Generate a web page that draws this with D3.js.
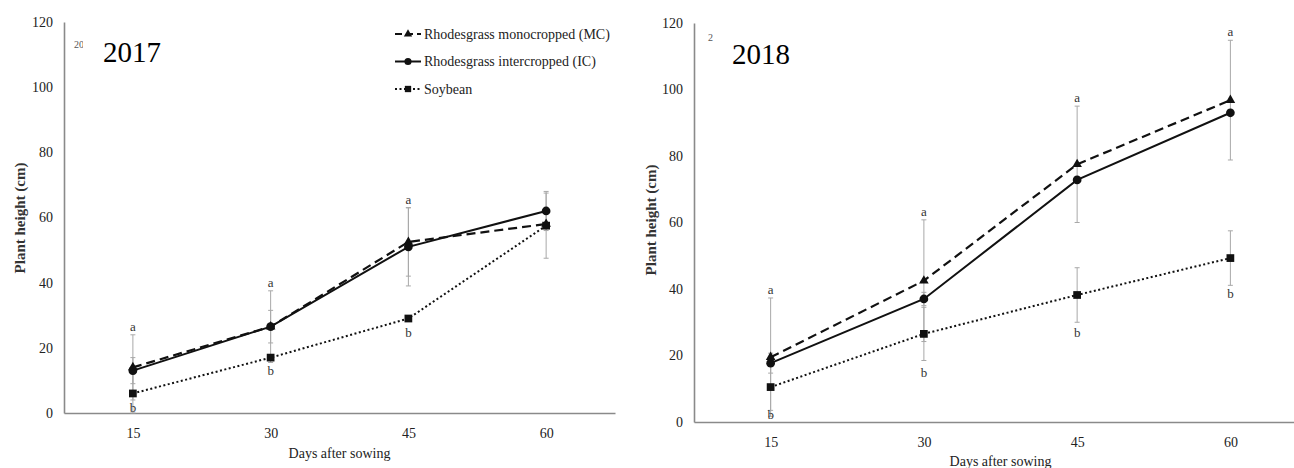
<!DOCTYPE html>
<html><head><meta charset="utf-8">
<script src="https://cdn.jsdelivr.net/npm/d3@7"></script>
<style>body{margin:0;background:#fff}svg{display:block}text{font-family:"Liberation Serif","Times New Roman",serif}</style>
</head><body><svg id="c" width="1294" height="468"></svg>
<script>
const days = ["15","30","45","60"];
const yTicks = [0,20,40,60,80,100,120];
const seriesNames = ["Rhodesgrass monocropped (MC)","Rhodesgrass intercropped (IC)","Soybean"];
// 2017
const mc2017 = [14, 26.5, 52.5, 58];
const ic2017 = [13, 26.5, 51, 62];
const soy2017 = [6, 17, 29, 57.5];
const mc2017Err = [10, 11, 10.5, 0];
const ic2017Err = [4, 5, 12, 6];
const soy2017Err = [6, 0, 0, 10];
const letters2017Top = ["a","a","a",""];
const letters2017Bot = ["b","b","b",""];
const letters2017BotVal = [1.8, 13.2, 25, 0];
// 2018
const mc2018 = [19.5, 42.5, 77.5, 96.8];
const ic2018 = [17.7, 37, 72.8, 93];
const soy2018 = [10.5, 26.5, 38.2, 49.3];
const mc2018Err = [17.8, 18.3, 17.5, 18];
const ic2018Err = [3, 2, 0, 0];
const soy2018Err = [7, 8, 8.2, 8.2];
const letters2018Top = ["a","a","a","a"];
const letters2018Bot = ["b","b","b","b"];
const letters2018BotVal = [2.4, 15, 27, 38.8];

const svg = d3.select("#c");

function panel(cfg){
  const x = d3.scalePoint().domain(days).range([cfg.x0, cfg.x1]).padding(0.5);
  const y = d3.scaleLinear().domain([0,120]).range([cfg.yb, cfg.yt]);
  const g = svg.append("g");
  const ya = g.append("g").attr("transform",`translate(${cfg.x0},0)`)
    .call(d3.axisLeft(y).tickValues(yTicks).tickSize(0).tickPadding(11));
  ya.select(".domain").attr("stroke","#8a8a8a").attr("stroke-width",1.6);
  ya.selectAll("text").attr("font-size",14).attr("fill","#222").style("font-family","Liberation Serif");
  const xa = g.append("g").attr("transform",`translate(0,${cfg.yb})`)
    .call(d3.axisBottom(x).tickSize(0).tickPadding(cfg.xpad));
  xa.select(".domain").attr("stroke","#8a8a8a").attr("stroke-width",1.6);
  xa.selectAll("text").attr("font-size",14).attr("fill","#222").style("font-family","Liberation Serif");
  g.append("text").attr("x",(cfg.x0+cfg.x1)/2).attr("y",cfg.xtY).attr("text-anchor","middle")
    .attr("font-size",14).attr("fill","#222").text("Days after sowing");
  g.append("text").attr("transform",`translate(${cfg.ytX},${cfg.ytY}) rotate(-90)`)
    .attr("text-anchor","middle").attr("font-size",15).attr("font-weight","bold").attr("fill","#333").text("Plant height (cm)");

  const allErr = [[cfg.mc,cfg.mcE],[cfg.ic,cfg.icE],[cfg.soy,cfg.soyE]];
  allErr.forEach(([v,e])=>{
    days.forEach((d,i)=>{
      if(!e[i]) return;
      const cx = x(d);
      g.append("line").attr("x1",cx).attr("x2",cx).attr("y1",y(v[i]-e[i])).attr("y2",y(v[i]+e[i]))
        .attr("stroke","#a8a8a8").attr("stroke-width",1);
      [v[i]-e[i], v[i]+e[i]].forEach(t=>{
        g.append("line").attr("x1",cx-2.5).attr("x2",cx+2.5).attr("y1",y(t)).attr("y2",y(t))
          .attr("stroke","#a8a8a8").attr("stroke-width",1);
      });
    });
  });

  const line = d3.line().x((d,i)=>x(days[i])).y(d=>y(d));
  g.append("path").datum(cfg.soy).attr("d",line).attr("fill","none").attr("stroke","#111").attr("stroke-width",2).attr("stroke-dasharray","2,2.5");
  g.append("path").datum(cfg.mc).attr("d",line).attr("fill","none").attr("stroke","#111").attr("stroke-width",2.2).attr("stroke-dasharray","9,5");
  g.append("path").datum(cfg.ic).attr("d",line).attr("fill","none").attr("stroke","#111").attr("stroke-width",2);

  const tri = d3.symbol().type(d3.symbolTriangle).size(40);
  const cir = d3.symbol().type(d3.symbolCircle).size(60);
  const sq = d3.symbol().type(d3.symbolSquare).size(60);
  cfg.mc.forEach((v,i)=>g.append("path").attr("d",tri()).attr("transform",`translate(${x(days[i])},${y(v)})`).attr("fill","#111"));
  cfg.ic.forEach((v,i)=>g.append("path").attr("d",cir()).attr("transform",`translate(${x(days[i])},${y(v)})`).attr("fill","#111"));
  cfg.soy.forEach((v,i)=>g.append("path").attr("d",sq()).attr("transform",`translate(${x(days[i])},${y(v)})`).attr("fill","#111"));

  days.forEach((d,i)=>{
    const top = Math.max(cfg.mc[i]+cfg.mcE[i], cfg.ic[i]+cfg.icE[i]);
    if(cfg.lt[i]) g.append("text").attr("x",x(d)).attr("y",y(top)-4).attr("text-anchor","middle").attr("font-size",13).attr("fill","#333").text(cfg.lt[i]);
    if(cfg.lb[i]) g.append("text").attr("x",x(d)).attr("y",y(cfg.lbV[i])+5).attr("text-anchor","middle").attr("font-size",13).attr("fill","#333").text(cfg.lb[i]);
  });
  return {x,y,g};
}

panel({x0:64,x1:615,yt:22,yb:413,xpad:15,xtY:458,ytX:25,ytY:218,
  mc:mc2017,ic:ic2017,soy:soy2017,mcE:mc2017Err,icE:ic2017Err,soyE:soy2017Err,
  lt:letters2017Top,lb:letters2017Bot,lbV:letters2017BotVal});
panel({x0:694,x1:1307,yt:23,yb:422,xpad:15,xtY:466,ytX:656,ytY:220,
  mc:mc2018,ic:ic2018,soy:soy2018,mcE:mc2018Err,icE:ic2018Err,soyE:soy2018Err,
  lt:letters2018Top,lb:letters2018Bot,lbV:letters2018BotVal});

svg.append("text").attr("x",103).attr("y",62).attr("font-size",29).attr("fill","#000").text("2017");
svg.append("text").attr("x",732).attr("y",64).attr("font-size",29).attr("fill","#000").text("2018");
svg.append("defs").append("clipPath").attr("id","cl").append("rect").attr("x",70).attr("y",30).attr("width",13).attr("height",25);
svg.append("text").attr("x",74).attr("y",48).attr("font-size",10).attr("fill","#555").attr("clip-path","url(#cl)").text("2017");
svg.append("text").attr("x",708).attr("y",41).attr("font-size",10).attr("fill","#555").text("2");

const legend = svg.append("g");
const lstyles = [{dash:"7,4",sym:d3.symbolTriangle,size:30},{dash:null,sym:d3.symbolCircle,size:40},{dash:"2,2.5",sym:d3.symbolSquare,size:40}];
seriesNames.forEach((n,i)=>{
  const yy = 34 + i*27.5;
  const l = legend.append("line").attr("x1",395).attr("x2",421).attr("y1",yy).attr("y2",yy).attr("stroke","#111").attr("stroke-width",2);
  if(lstyles[i].dash) l.attr("stroke-dasharray",lstyles[i].dash);
  legend.append("path").attr("d",d3.symbol().type(lstyles[i].sym).size(lstyles[i].size)()).attr("transform",`translate(408,${yy})`).attr("fill","#111");
  legend.append("text").attr("x",424).attr("y",yy+4.5).attr("font-size",14).attr("fill","#222").text(n);
});
</script></body></html>
